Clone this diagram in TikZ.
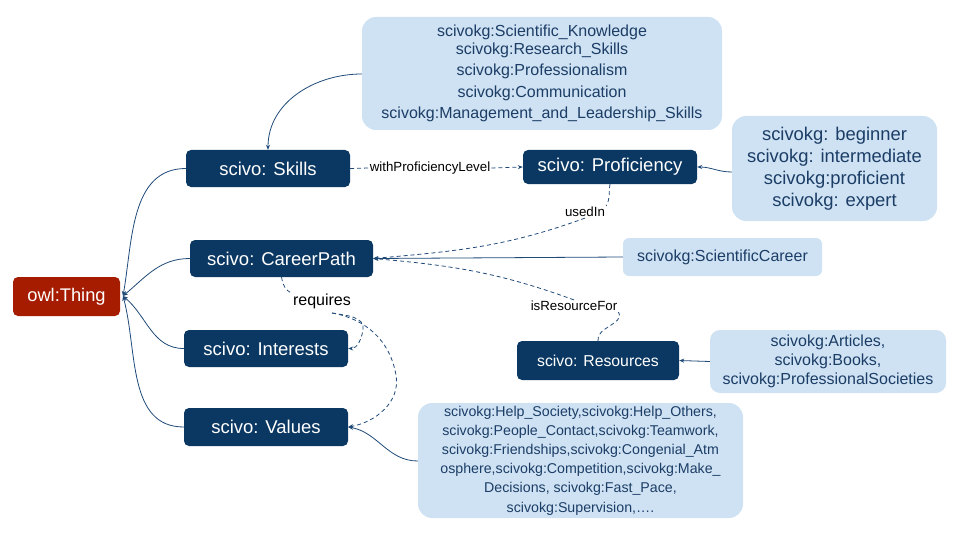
\documentclass[tikz,border=0pt]{standalone}
\usepackage{fontspec}
\setmainfont{Liberation Sans}
\usetikzlibrary{arrows.meta}
\definecolor{darkb}{HTML}{0B3862}
\definecolor{redb}{HTML}{A61C00}
\definecolor{lightb}{HTML}{CFE2F3}
\definecolor{ltext}{HTML}{1B3D66}
\definecolor{edge}{HTML}{1F4A78}
\tikzset{
  cls/.style={fill=darkb, rounded corners=5pt, text=white, inner sep=0pt, font=\fontsize{18.5}{20}\selectfont, anchor=center},
  rootbox/.style={fill=redb, rounded corners=5pt, text=white, inner sep=0pt, font=\fontsize{18.3}{20}\selectfont},
  inst/.style={fill=lightb, rounded corners=14pt, text=ltext, inner sep=0pt, align=center},
  conn/.style={draw=edge, line width=0.8pt, -{Stealth[length=5pt,width=4pt]}},
  dline/.style={draw=edge, line width=0.8pt, dashed, dash pattern=on 4pt off 3pt},
  dconn/.style={conn, dashed, dash pattern=on 4pt off 3pt},
  lab/.style={text=black, inner sep=1pt, font=\fontsize{13.3}{15}\selectfont},
}
\begin{document}
\begin{tikzpicture}[x=1pt,y=-1pt]
\useasboundingbox (0,0) rectangle (960,540);
% class nodes
\node[rootbox, minimum width=107pt, minimum height=39pt] (thing) at (66.5,296.5) {owl:Thing};
\node[cls, minimum width=164pt, minimum height=37pt] (skills) at (268,168.5) {scivo: Skills};
\node[cls, minimum width=183pt, minimum height=37pt] (career) at (281.5,258.5) {scivo: CareerPath};
\node[cls, minimum width=164pt, minimum height=37pt] (interests) at (266,348.5) {scivo: Interests};
\node[cls, minimum width=164pt, minimum height=38pt] (values) at (266,427) {scivo: Values};
\node[cls, minimum width=174pt, minimum height=34pt] (prof) at (610,167) {scivo: Proficiency};
\node[cls, minimum width=162pt, minimum height=39pt, font=\fontsize{15.8}{18}\selectfont] (res) at (598,360.5) {scivo: Resources};
% instance boxes
\node[inst, minimum width=360pt, minimum height=113pt, font=\fontsize{16}{21.5}\selectfont] (skilllist) at (542,73.5)
  {scivokg:Scientific\_Knowledge\\[-4pt] scivokg:Research\_Skills\\ scivokg:Professionalism\\ scivokg:Communication\\ scivokg:Management\_and\_Leadership\_Skills};
\node[inst, minimum width=205pt, minimum height=105pt, font=\fontsize{18.4}{22}\selectfont] (proflist) at (834.5,168.5)
  {scivokg: beginner\\ scivokg: intermediate\\ scivokg:proficient\\ scivokg: expert};
\node[inst, rounded corners=6pt, minimum width=199pt, minimum height=38pt, font=\fontsize{16}{18}\selectfont] (sci) at (722.5,257) {scivokg:ScientificCareer};
\node[inst, rounded corners=10pt, minimum width=236pt, minimum height=63pt, font=\fontsize{16}{19}\selectfont] (reslist) at (828,361.5)
  {scivokg:Articles,\\ scivokg:Books,\\ scivokg:ProfessionalSocieties};
\node[inst, minimum width=325pt, minimum height=115pt, font=\fontsize{14.2}{19.2}\selectfont] (vallist) at (580.5,460.5)
  {scivokg:Help\_Society,scivokg:Help\_Others,\\ scivokg:People\_Contact,scivokg:Teamwork,\\ scivokg:Friendships,scivokg:Congenial\_Atm\\ osphere,scivokg:Competition,scivokg:Make\_\\ Decisions, scivokg:Fast\_Pace,\\ scivokg:Supervision,\dots.};
% hierarchy edges
\coordinate (tip) at (123,296);
\draw[conn] (skills.west) to[out=180,in=80] (tip);
\draw[conn] (career.west) to[out=180,in=40] (tip);
\draw[conn] (interests.west) to[out=180,in=-40] (tip);
\draw[conn] (values.west) to[out=180,in=-75] (tip);
% instance edges
\draw[conn] (skilllist.west |- 0,74) to[out=180,in=90] (skills.north);
\draw[conn] (proflist.west |- 0,172) to[out=180,in=0] (prof.east);
\draw[conn] (sci.west) -- (career.east);
\draw[conn] (reslist.west) -- (res.east);
\draw[conn] (vallist.west |- 0,461) to[out=180,in=-10] (values.east);
% property edges
\node[lab] (wpl) at (430,168) {withProficiencyLevel};
\draw[dline] (skills.east) -- (wpl.west);
\draw[dconn] (wpl.east) -- (prof.west);
\node[lab] (used) at (585,212) {usedIn};
\draw[dline] (prof.south) to[out=-100,in=60] (used.north east);
\draw[dconn] (used.south) to[out=-160,in=5] (career.east);
\node[lab] (isr) at (574,306) {isResourceFor};
\draw[dline] (res.north) to[out=100,in=-60] (isr.south east);
\draw[dconn] (isr.north) to[out=160,in=-5] (career.east);
\node[lab, font=\fontsize{16}{18}\selectfont] (req) at (322,301) {requires};
\draw[dline] (career.south) to[out=-80,in=160] (req.west |- 0,293);
\coordinate (rq) at (332,313);
\draw[dconn] (rq) to[out=-10,in=80] (363,330) to[out=-100,in=0] (interests.east);
\draw[dconn] (rq) to[out=-10,in=100] (396,375) to[out=-80,in=10] (values.east);
\end{tikzpicture}
\end{document}
